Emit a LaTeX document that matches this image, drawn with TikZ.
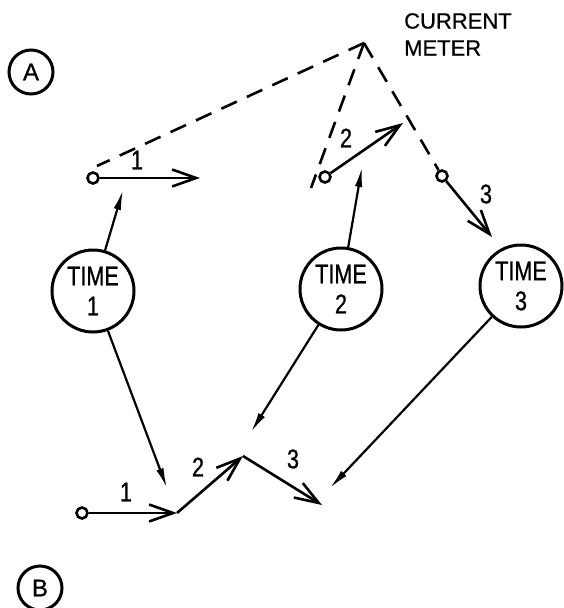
\documentclass[tikz,border=0pt]{standalone}
\usepackage{fontspec}
\setmainfont[FakeBold=0.6]{Liberation Sans}
\newfontfamily\narrowfont[FakeStretch=0.8,FakeBold=0.8]{Liberation Sans}
\usetikzlibrary{arrows.meta}
\begin{document}
\begin{tikzpicture}[x=1pt,y=-1pt,
 every node/.style={inner sep=0pt},
 timenode/.style={draw, circle, line width=3pt, minimum size=82pt, align=center,
   font=\narrowfont\fontsize{27}{30}\selectfont},
 lettercirc/.style={draw, circle, line width=3pt, minimum size=44pt,
   font=\fontsize{24}{24}\selectfont},
 smalldot/.style={draw, circle, line width=2.6pt, minimum size=11pt},
 lbl/.style={font=\narrowfont\fontsize{27}{27}\selectfont},
 openarrow/.style={line width=2.6pt, -{Straight Barb[length=24pt,width=17pt,line width=2.6pt]}},
 fillarrow/.style={line width=2.2pt, -{Latex[length=20pt,width=7.5pt]}},
 dashline/.style={line width=2.6pt, dash pattern=on 17pt off 11pt},
]
\useasboundingbox (0,0) rectangle (564,608);

% panel labels
\node[lettercirc] (A) at (31,72) {A};
\node[lettercirc] (B) at (40,588) {B};

% TIME circles
\node[timenode] (t1) at (93,291) {TIME\\1};
\node[timenode] (t2) at (341,289) {TIME\\2};
\node[timenode] (t3) at (521,286) {TIME\\3};

% current meter
\coordinate (apex) at (364,43);
\node[anchor=north west, align=left, font=\fontsize{22}{27}\selectfont] (cm) at (404,13) {CURRENT\\METER};

% small circles (sensor positions)
\node[smalldot] (s1) at (93,178) {};
\node[smalldot] (s2) at (325,177) {};
\node[smalldot] (s3) at (442,176) {};
\node[smalldot] (b0) at (82,513) {};

% dashed tether lines
\coordinate (e1) at (97,166);
\coordinate (e2) at (311,188);
\draw[dashline] (apex) -- (e1);
\draw[dashline] (apex) -- (e2);
\draw[dashline] (apex) -- (s3);

% current vectors at meter
\coordinate (v1) at (200,178);
\coordinate (v2) at (403,123);
\coordinate (v3) at (492,237);
\draw[openarrow] (s1) -- (v1);
\draw[openarrow] (s2) -- (v2);
\draw[openarrow] (s3) -- (v3);
\node[lbl] (l1) at (137,160) {1};
\node[lbl] (l2) at (346,138) {2};
\node[lbl] (l3) at (486,194) {3};

% progressive vector diagram
\coordinate (p1) at (177,513);
\coordinate (p2) at (243,456);
\coordinate (p3) at (322,505);
\draw[openarrow] (b0) -- (p1);
\draw[openarrow] (p1) -- (p2);
\draw[openarrow] (p2) -- (p3);
\node[lbl] (m1) at (126,492) {1};
\node[lbl] (m2) at (198,467) {2};
\node[lbl] (m3) at (293,459) {3};

% links from time circles
\coordinate (u1) at (123,190);
\coordinate (u2) at (362,167);
\coordinate (d1) at (167,488);
\coordinate (d2) at (251,432);
\coordinate (d3) at (330,488);
\draw[fillarrow] (t1) -- (u1);
\draw[fillarrow] (t2) -- (u2);
\draw[fillarrow] (t1) -- (d1);
\draw[fillarrow] (t2) -- (d2);
\draw[fillarrow] (t3) -- (d3);
\end{tikzpicture}
\end{document}
